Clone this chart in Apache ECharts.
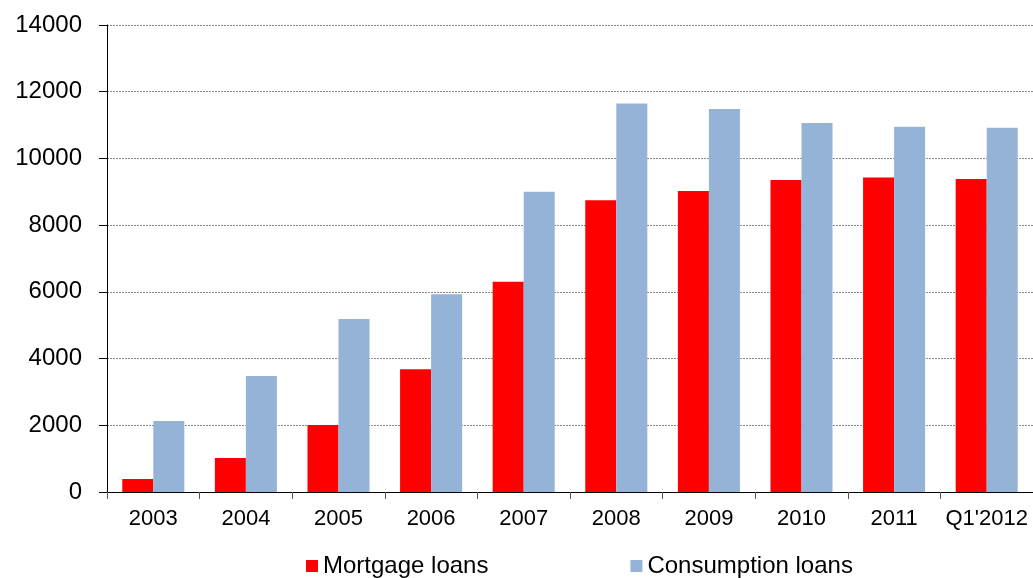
<!DOCTYPE html>
<html>
<head>
<meta charset="utf-8">
<script src="https://cdn.jsdelivr.net/npm/echarts@6/dist/echarts.min.js"></script>
<style>
html, body { margin: 0; padding: 0; background: #fff; }
#loansChart { width: 1033px; height: 578px; }
</style>
</head>
<body>
<div id="loansChart"></div>
<script>
// categories and values
var years = ['2003', '2004', '2005', '2006', '2007', '2008', '2009', '2010', '2011', "Q1'2012"];
var mortgageLoans = [390, 1020, 2010, 3680, 6300, 8750, 9020, 9350, 9430, 9380];
var consumptionLoans = [2130, 3480, 5190, 5930, 9000, 11650, 11480, 11060, 10950, 10920];

var myChart = echarts.init(document.getElementById('loansChart'));

var option = {
    animation: false,
    textStyle: { fontFamily: 'Liberation Sans, Arial, sans-serif' },
    grid: {
        left: 107,
        right: 0,
        top: 25,
        bottom: 86
    },
    legend: {
        data: ['Mortgage loans', 'Consumption loans'],
        left: 301,
        top: 549,
        itemWidth: 12,
        itemHeight: 12,
        itemGap: 142,
        icon: 'rect',
        textStyle: { fontSize: 24, color: '#000' }
    },
    xAxis: {
        type: 'category',
        data: years,
        axisLine: { lineStyle: { color: '#000', width: 1 } },
        axisTick: { show: true, interval: 0, length: 7, lineStyle: { color: '#555' } },
        axisLabel: { interval: 0, fontSize: 22, color: '#000', margin: 16 }
    },
    yAxis: {
        type: 'value',
        min: 0,
        max: 14000,
        interval: 2000,
        axisLine: { show: true, lineStyle: { color: '#000', width: 1 } },
        axisTick: { show: true, length: 8, lineStyle: { color: '#000' } },
        axisLabel: {
            fontSize: 24, color: '#000', margin: 25,
            formatter: function (v) { return String(v); }
        },
        splitLine: { lineStyle: { color: '#8c8c8c', type: [2, 1], width: 1 } }
    },
    series: [
        {
            name: 'Mortgage loans',
            type: 'bar',
            data: mortgageLoans,
            barGap: '0%',
            barCategoryGap: '33%',
            itemStyle: { color: '#ff0000' }
        },
        {
            name: 'Consumption loans',
            type: 'bar',
            data: consumptionLoans,
            barGap: '0%',
            barCategoryGap: '33%',
            itemStyle: { color: '#95b3d7' }
        }
    ]
};

myChart.setOption(option);
</script>
</body>
</html>
